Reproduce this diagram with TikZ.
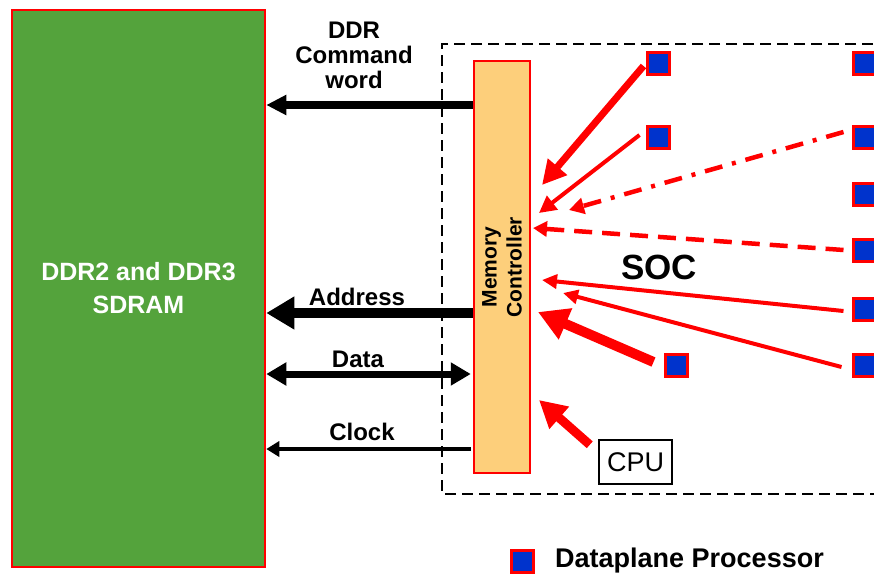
\documentclass[tikz,border=0pt]{standalone}
\usepackage{fontspec}
\setmainfont{Liberation Sans}
\usetikzlibrary{arrows.meta,calc}
\definecolor{sdgreen}{RGB}{84,163,60}
\definecolor{mcfill}{RGB}{253,207,123}
\definecolor{dpblue}{RGB}{0,51,204}
\definecolor{pure red}{RGB}{255,0,0}
\tikzset{
  dp/.style={draw=pure red, fill=dpblue, line width=3pt, minimum size=22pt, inner sep=0pt},
  lbl/.style={font=\fontsize{24}{25}\selectfont\bfseries, align=center, inner sep=0pt},
  redarr/.style={draw=pure red, line cap=butt},
  blkarr/.style={draw=black}
}
\begin{document}
\begin{tikzpicture}[x=1pt,y=-1pt]
\useasboundingbox (0,0) rectangle (874,576);
\clip (0,0) rectangle (874,576);

% SDRAM
\node[draw=pure red, line width=2.5pt, fill=sdgreen, minimum width=253pt, minimum height=557pt,
      inner sep=0pt, text=white, font=\fontsize{25}{33}\selectfont\bfseries, align=center]
      (sdram) at (138.5,288.5) {DDR2 and DDR3\\SDRAM};

% SOC dashed box
\draw[line width=2.8pt, dash pattern=on 11pt off 6pt] (890,44) -- (442,44) -- (442,494) -- (890,494);

% Memory controller
\node[draw=pure red, line width=2.5pt, fill=mcfill, minimum width=56pt, minimum height=412pt, inner sep=0pt]
      (mc) at (502,267) {};
\node[rotate=90, font=\fontsize{21}{25}\selectfont\bfseries, align=center] (mctext) at (mc.center) {Memory\\Controller};

% labels
\node[lbl] (lcmd) at (354,55) {DDR\\Command\\word};
\node[lbl] (laddr) at (357,297) {Address};
\node[lbl] (ldata) at (358,359) {Data};
\node[lbl] (lclk) at (362,432) {Clock};

% y levels
\coordinate (ycmd) at (0,105);
\coordinate (yaddr) at (0,313);
\coordinate (ydata) at (0,374);
\coordinate (yclk) at (0,449);

\draw[blkarr, line width=7.5pt, -{Triangle[length=20pt,width=19pt]}] (mc.west |- ycmd) -- (sdram.east |- ycmd);
\draw[blkarr, line width=10pt, -{Triangle[length=28pt,width=31pt]}] (mc.west |- yaddr) -- (sdram.east |- yaddr);
\draw[blkarr, line width=7pt, {Triangle[length=20pt,width=22pt]}-{Triangle[length=20pt,width=22pt]}] (sdram.east |- ydata) -- ([xshift=-2pt]mc.west |- ydata);
\draw[blkarr, line width=4.5pt, -{Triangle[length=13pt,width=15pt]}] ([xshift=-2pt]mc.west |- yclk) -- (sdram.east |- yclk);

% dataplane processors
\node[dp] (p1) at (658,63) {};
\node[dp] (p2) at (658,137) {};
\node[dp] (r1) at (864,63) {};
\node[dp] (r2) at (864,137) {};
\node[dp] (r3) at (864,194) {};
\node[dp] (r4) at (864,250) {};
\node[dp] (r5) at (864,309) {};
\node[dp] (r6) at (864,365) {};
\node[dp] (pm) at (676,365) {};

% SOC label
\node[font=\fontsize{35}{40}\selectfont\bfseries, inner sep=0pt] (soc) at (659,267) {SOC};

% CPU
\node[draw=black, line width=2.5pt, minimum width=73pt, minimum height=44pt, inner sep=0pt,
      font=\fontsize{27}{30}\selectfont] (cpu) at (635.5,462) {CPU};

% arrow tips
\coordinate (t1) at (542,185);
\coordinate (t2) at (539,213);
\coordinate (t3) at (569,210);
\coordinate (t4) at (533,228);
\coordinate (t5) at (542,280);
\coordinate (t6) at (563,293);
\coordinate (t7) at (538,312);
\coordinate (t8) at (539,400);

\draw[redarr, line width=7pt, -{Triangle[length=24pt,width=24pt]}] ($(p1.west)+(-2,3)$) -- (t1);
\draw[redarr, line width=4pt, -{Triangle[length=17pt,width=17pt]}] ($(p2.west)+(-6,-2)$) -- (t2);
\draw[redarr, line width=4.5pt, dash pattern=on 18pt off 10pt on 4pt off 10pt, -{Triangle[length=15pt,width=16pt]}] ($(r2.west)+(-8,-5)$) -- (t3);
\draw[redarr, line width=4.5pt, dash pattern=on 18pt off 10pt, -{Triangle[length=14pt,width=15pt]}] ($(r4.west)+(-8,0)$) -- (t4);
\draw[redarr, line width=4pt, -{Triangle[length=15pt,width=14pt]}] ($(r5.west)+(-8,2)$) -- (t5);
\draw[redarr, line width=4pt, -{Triangle[length=15pt,width=14pt]}] ($(r6.west)+(-10,2)$) -- (t6);
\draw[redarr, line width=10pt, -{Triangle[length=30pt,width=32pt]}] ($(pm.west)+(-10,-3)$) -- (t7);
\draw[redarr, line width=9pt, -{Triangle[length=27pt,width=28pt]}] ($(cpu.north west)+(-8,6)$) -- (t8);

% legend
\node[dp] (leg) at (522,561) {};
\node[font=\fontsize{27}{30}\selectfont\bfseries, anchor=west, inner sep=0pt] (legtext) at (555,561) {Dataplane Processor};

\end{tikzpicture}
\end{document}
